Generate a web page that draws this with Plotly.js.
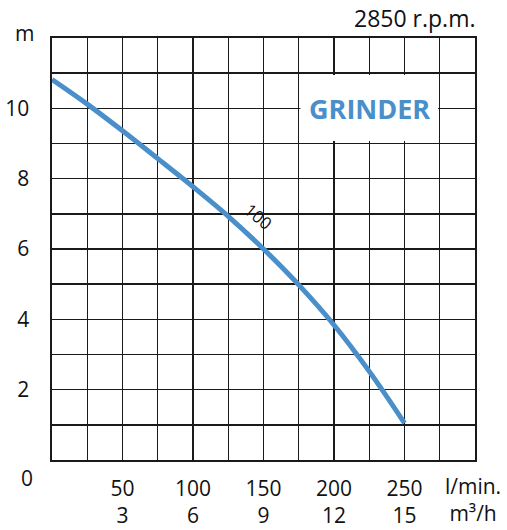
<!DOCTYPE html>
<html>
<head>
<meta charset="utf-8">
<script src="https://cdn.plot.ly/plotly-3.0.1.min.js"></script>
<style>html,body{margin:0;padding:0;background:#fff;}#chart{width:507px;height:530px;}</style>
</head>
<body>
<div id="chart"></div>
<script>
// Flow (l/min) and head (m)
const flowLmin = [0, 25, 50, 75, 100, 125, 150, 175, 200, 225, 250];
const headM = [10.82, 10.12, 9.36, 8.57, 7.77, 6.93, 6.0, 4.98, 3.84, 2.52, 1.05];
const xGrid = [0, 25, 50, 75, 100, 125, 150, 175, 200, 225, 250, 275, 300];
const xLabels = ['', '', '50<br>3', '', '100<br>6', '', '150<br>9', '', '200<br>12', '', '250<br>15', '', ''];
const yGrid = [0, 1, 2, 3, 4, 5, 6, 7, 8, 9, 10, 11, 12];
const yLabels = ['', '', '2', '', '4', '', '6', '', '8', '', '10', '', ''];
const curveName = '100';

const FONT = 'Open Sans, sans-serif';
const BLUE = '#4a8fc9';

const trace = {
  x: flowLmin, y: headM, type: 'scatter', mode: 'lines',
  line: {color: BLUE, width: 5, shape: 'spline', smoothing: 1},
  hoverinfo: 'skip', showlegend: false
};

const layout = {
  width: 507, height: 530,
  margin: {l: 52, r: 32, t: 38, b: 70},
  paper_bgcolor: '#fff', plot_bgcolor: '#fff',
  font: {family: FONT, size: 21, color: '#111'},
  xaxis: {
    range: [0, 300], tickvals: xGrid, ticktext: xLabels, ticks: '',
    showgrid: true, gridcolor: '#1a1a1a', gridwidth: 1.4,
    showline: true, linecolor: '#1a1a1a', linewidth: 1.6, mirror: true,
    zeroline: false, fixedrange: true, ticklabelstandoff: 9,
    tickfont: {family: FONT, size: 21, color: '#111'}
  },
  yaxis: {
    range: [0, 12], tickvals: yGrid, ticktext: yLabels, ticks: '',
    showgrid: true, gridcolor: '#1a1a1a', gridwidth: 1.4,
    showline: true, linecolor: '#1a1a1a', linewidth: 1.6, mirror: true,
    zeroline: false, fixedrange: true, ticklabelstandoff: 17,
    tickfont: {family: FONT, size: 21, color: '#111'}
  },
  shapes: [{
    type: 'rect', xref: 'x', yref: 'y', x0: 176.2, x1: 273.8, y0: 9.07, y1: 10.95,
    fillcolor: '#fff', line: {width: 0}, layer: 'between'
  }],
  annotations: [
    {text: 'GRINDER', xref: 'x', yref: 'y', x: 225, y: 10, showarrow: false,
     font: {family: FONT, size: 27, color: BLUE, weight: 'bold'}},
    {text: curveName, xref: 'x', yref: 'y', x: 146.5, y: 6.93, showarrow: false,
     textangle: 40, font: {family: FONT, size: 17, color: '#111'}},
    {text: '2850 r.p.m.', xref: 'paper', yref: 'paper', x: 1.005, y: 1, yshift: 20,
     xanchor: 'right', yanchor: 'middle', showarrow: false,
     font: {family: FONT, size: 23, color: '#111'}},
    {text: 'm', xref: 'paper', yref: 'paper', x: 0, xshift: -28, y: 1, yshift: 5,
     xanchor: 'center', yanchor: 'middle', showarrow: false,
     font: {family: FONT, size: 21, color: '#111'}},
    {text: '0', xref: 'paper', yref: 'paper', x: 0, xshift: -25, y: 0, yshift: -18,
     xanchor: 'center', yanchor: 'middle', showarrow: false,
     font: {family: FONT, size: 21, color: '#111'}},
    {text: 'l/min.<br>m³/h', xref: 'paper', yref: 'paper', x: 1, xshift: -2, y: 0, yshift: -10,
     xanchor: 'center', yanchor: 'top', align: 'center', showarrow: false,
     font: {family: FONT, size: 21, color: '#111'}}
  ]
};

Plotly.newPlot('chart', [trace], layout, {displayModeBar: false, staticPlot: true});
</script>
</body>
</html>
